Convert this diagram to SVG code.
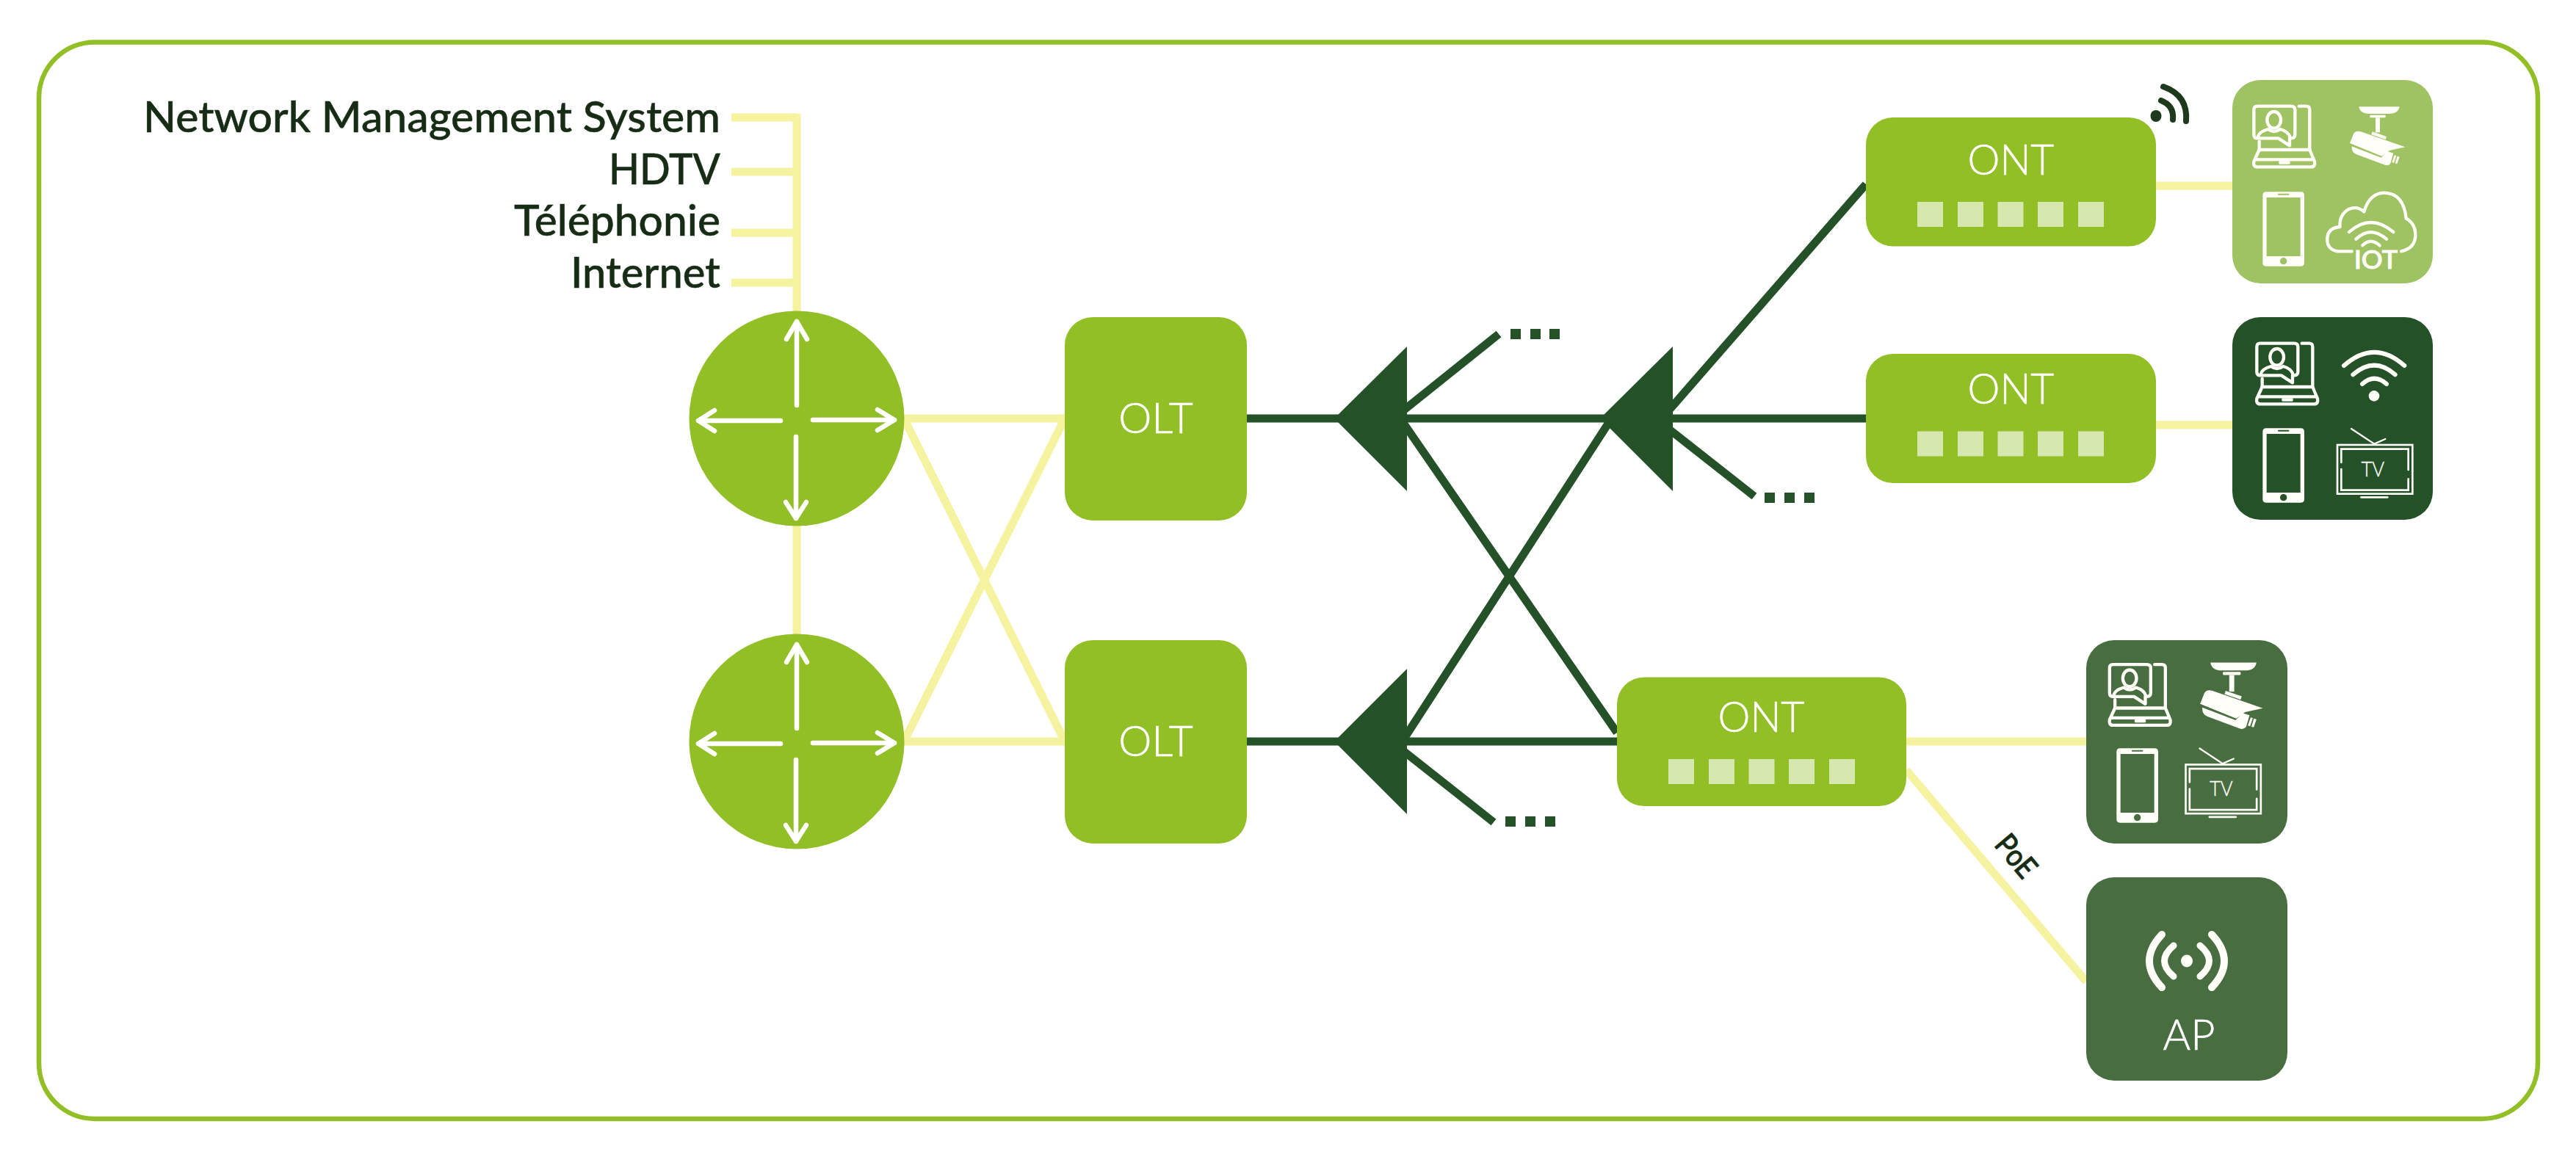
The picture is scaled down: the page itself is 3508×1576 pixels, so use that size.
<svg xmlns="http://www.w3.org/2000/svg" width="3508" height="1576" viewBox="0 0 3508 1576">
<style>
.g{fill:#93bf26}
.y{stroke:#f5f2a0;stroke-width:11;fill:none}
.d{stroke:#245128;stroke-width:11;fill:none}
.df{fill:#245128}
.sq{fill:#d7e7b0}
.lab{font-family:"Lato","Liberation Sans",sans-serif;font-weight:500;font-size:58px;fill:#162c15;stroke:#162c15;stroke-width:.5px;text-anchor:end}
.nt{font-family:"Lato","Liberation Sans",sans-serif;font-weight:300;font-size:57px;fill:#fff;stroke:#fff;stroke-width:.6px;text-anchor:middle}
.ar{stroke:#fff;stroke-width:6.5;fill:none;stroke-linecap:round;stroke-linejoin:round}
.ic{stroke:#fffef8;stroke-width:13;fill:none;stroke-linecap:round;stroke-linejoin:round}
.if{fill:#fffef8}
</style>
<defs>
<g id="router">
<circle cx="0" cy="0" r="146.5" class="g"/>
<path class="ar" d="M0 -132V-18M-14 -108L0 -132L14 -108"/>
<path class="ar" d="M-1 25V136M-15 114L-1 136L13 114"/>
<path class="ar" d="M-22 3H-134M-112 -11L-134 3L-112 17"/>
<path class="ar" d="M22 2H133M110 -12L133 2L110 16"/>
</g>
<g id="ports">
<rect x="70" y="0" width="35" height="34" class="sq"/>
<rect x="125" y="0" width="35" height="34" class="sq"/>
<rect x="179.500" y="0" width="35" height="34" class="sq"/>
<rect x="234" y="0" width="35" height="34" class="sq"/>
<rect x="289" y="0" width="35" height="34" class="sq"/>
</g>
<g id="laptop">
<path class="ic" d="M160 265Q148 265 148 250V148Q148 134 162 134H300Q316 134 316 148V250Q316 265 300 265H294V295L248 265Z"/>
<path class="ic" d="M332 134H362Q376 134 376 148V312M170 278V312"/>
<path class="ic" d="M170 312H376L396 360Q400 382 382 382H162Q144 382 148 360Z M152 352H392"/>
<rect class="if" x="250" y="358" width="46" height="13" rx="4"/>
<ellipse class="ic" cx="230" cy="190" rx="28" ry="34"/>
<path class="ic" d="M165 258Q170 238 206 228Q230 246 256 228Q290 238 296 262"/>
</g>
<g id="phone">
<path class="if" fill-rule="evenodd" d="M198 484H340Q354 484 354 498V774Q354 788 340 788H198Q184 788 184 774V498Q184 484 198 484Z M200 507V747H338V507Z M248 491Q246 491 246 494Q246 497 248 497H290Q292 497 292 494Q292 491 290 491Z M269 753A14 14 0 1 0 269 781A14 14 0 1 0 269 753Z"/>
</g>
<g id="camera">
<path class="if" d="M577 136H743Q738 165 700 165H620Q582 165 577 136Z"/>
<rect class="if" x="622" y="170" width="64" height="11" rx="3"/>
<rect class="if" x="645" y="181" width="18" height="60"/>
<path class="if" d="M632 238L690 258L686 270L628 250Z"/>
<path class="if" d="M540 285L556 245Q565 232 585 238L766 301L702 315L670 338Z"/>
<path class="if" d="M548 298L668 344L692 318L718 326L706 368Q696 380 680 373L565 330Q546 322 548 298Z"/>
<path class="if" d="M722 334L730 336L720 366L712 363Z M734 338L743 341L733 370L725 367Z"/>
</g>
<g id="iot">
<path class="ic" d="M548 727H490Q445 720 448 672Q452 630 500 627Q495 580 535 555Q570 540 598 565Q620 490 680 488Q760 490 770 592Q810 615 808 665Q805 715 750 727"/>
<path class="ic" d="M537 648Q625 570 718 648M565 677Q625 620 690 677M592 703Q625 670 662 703"/>
<text x="557" y="797" font-family="Lato,'Liberation Sans',sans-serif" font-weight="500" font-size="104" fill="#fffef8" stroke="#fffef8" stroke-width="3" textLength="178" lengthAdjust="spacingAndGlyphs">IOT</text>
</g>
<g id="tv">
<rect x="489" y="528" width="307" height="200" fill="none" stroke="#fffef8" stroke-width="8"/>
<path fill="none" stroke="#fffef8" stroke-width="8" stroke-linecap="round" d="M505 600V545H779V630M779 667V713H505V627"/>
<path fill="none" stroke="#fffef8" stroke-width="7" stroke-linecap="round" d="M546 462L640 524L685 504"/>
<rect class="if" x="582" y="738" width="116" height="8" rx="4"/>
<text x="634" y="657" font-family="Lato,'Liberation Sans',sans-serif" font-weight="300" font-size="84" fill="#fffef8" stroke="#fffef8" stroke-width="1" text-anchor="middle" textLength="95" lengthAdjust="spacingAndGlyphs">TV</text>
</g>
</defs>

<rect id="frame" x="53" y="57.500" width="3403" height="1466.500" rx="76" fill="#fff" stroke="#93bf26" stroke-width="6.500"/>

<g id="connectors">
<path class="y" d="M996 160H1085M996 234H1085M996 317H1085M996 385H1085M1085 155V1000"/>
<path class="y" d="M1231 570H1450M1231 1010H1450M1231 570L1450 1010M1231 1010L1450 570"/>
<path class="y" d="M2936 253H3040M2936 579H3040M2596 1010H2841M2596 1049L2841 1337"/>
<path class="d" d="M1698 570H2541M1698 1010H2202"/>
<path class="d" d="M1900 560L2202 998M1905 1017L2190 577M2270 562L2541 251"/>
<path class="d" d="M1910 560L2041 455M2272 584L2389 676M1910 1022L2034 1120"/>
</g>

<g id="legend-network-management-system"><text class="lab" x="981" y="180" textLength="786" lengthAdjust="spacingAndGlyphs">Network Management System</text></g>
<g id="legend-hdtv"><text class="lab" x="981" y="250.500" textLength="152" lengthAdjust="spacingAndGlyphs">HDTV</text></g>
<g id="legend-telephonie"><text class="lab" x="981" y="321" textLength="281" lengthAdjust="spacingAndGlyphs">Téléphonie</text></g>
<g id="legend-internet"><text class="lab" x="981" y="391.500" textLength="204" lengthAdjust="spacingAndGlyphs">Internet</text></g>

<g id="router-1"><use href="#router" x="1085" y="570"/></g>
<g id="router-2"><use href="#router" x="1085" y="1010"/></g>

<g id="olt-1"><rect x="1450" y="432" width="248" height="277" rx="38" class="g"/><text class="nt" x="1574" y="590">OLT</text></g>
<g id="olt-2"><rect x="1450" y="872" width="248" height="277" rx="38" class="g"/><text class="nt" x="1574" y="1030">OLT</text></g>

<g id="splitter-1"><path class="df" d="M1817 570L1916 472V669Z"/><path class="df" d="M2057 448h14v14h-14zM2084 448h14v14h-14zM2110 448h14v14h-14z"/></g>
<g id="splitter-2"><path class="df" d="M2179 570L2278 472V669Z"/><path class="df" d="M2403 671h14v14h-14zM2430 671h14v14h-14zM2457 671h14v14h-14z"/></g>
<g id="splitter-3"><path class="df" d="M1817 1010L1916 911V1109Z"/><path class="df" d="M2050 1112h14v14h-14zM2077 1112h14v14h-14zM2104 1112h14v14h-14z"/></g>

<g id="ont-1"><rect x="2541" y="160" width="395" height="175.500" rx="37" class="g"/><use href="#ports" x="2541" y="275"/><text class="nt" x="2738.500" y="238" textLength="118" lengthAdjust="spacingAndGlyphs">ONT</text>
<g fill="none" stroke="#1e3a1c" stroke-width="8" stroke-linecap="round"><path d="M2943 137Q2961 144 2959 163M2946 118Q2980 130 2977 165"/></g><ellipse cx="2936" cy="158" rx="7.500" ry="8" fill="#1e3a1c"/></g>
<g id="ont-2"><rect x="2541" y="482" width="395" height="176" rx="37" class="g"/><use href="#ports" x="2541" y="587.500"/><text class="nt" x="2738.500" y="550" textLength="118" lengthAdjust="spacingAndGlyphs">ONT</text></g>
<g id="ont-3"><rect x="2202" y="922.500" width="394" height="175.500" rx="37" class="g"/><use href="#ports" x="2202" y="1034"/><text class="nt" x="2398.500" y="997" textLength="118" lengthAdjust="spacingAndGlyphs">ONT</text></g>

<g id="devices-1"><rect x="3040" y="109" width="273" height="277" rx="38" fill="#9fc263"/>
<g transform="translate(3020 100) scale(.33333)"><use href="#laptop"/><use href="#camera"/><use href="#phone"/><use href="#iot"/></g></g>

<g id="devices-2"><rect x="3040" y="432" width="273" height="276" rx="38" fill="#245128"/>
<g transform="translate(3024 423) scale(.33333)"><use href="#laptop"/></g>
<g transform="translate(3020 422) scale(.33333)"><use href="#phone"/></g>
<g transform="translate(3020 430) scale(.33333)"><use href="#tv"/>
<g fill="none" stroke="#fffef8" stroke-linecap="round"><path stroke-width="18" d="M516 204Q640 95 763 204"/><path stroke-width="18" d="M553 241Q640 165 725 241"/><path stroke-width="18" d="M591 279Q640 235 690 279"/></g><circle class="if" cx="639" cy="328" r="22"/></g></g>

<g id="devices-3"><rect x="2841" y="872" width="274" height="277" rx="38" fill="#486d40"/>
<g transform="translate(2823.500 860.500) scale(.33333)"><use href="#laptop"/></g>
<g transform="translate(2792 851) scale(.378)"><use href="#camera"/></g>
<g transform="translate(2821 858) scale(.33333)"><use href="#phone"/></g>
<g transform="translate(2813.500 865.500) scale(.33333)"><use href="#tv"/></g></g>

<g id="ap"><rect x="2841" y="1195" width="274" height="277" rx="38" fill="#486d40"/>
<ellipse cx="2978" cy="1309" rx="8" ry="8.500" fill="#fffef8"/>
<g fill="none" stroke="#fffef8" stroke-width="9" stroke-linecap="round"><path d="M2960 1288Q2935 1309 2960 1330M2996 1288Q3021 1309 2996 1330"/><path stroke-width="10" d="M2944 1273Q2910 1309 2944 1345M3012 1273Q3046 1309 3012 1345"/></g>
<text class="nt" x="2981" y="1430" textLength="71" lengthAdjust="spacingAndGlyphs">AP</text></g>

<text id="poe" x="0" y="0" transform="translate(2734.500 1175.500) rotate(50)" font-family="Lato,'Liberation Sans',sans-serif" font-weight="500" font-size="42" fill="#162c15" stroke="#162c15" stroke-width=".8" text-anchor="middle" textLength="63" lengthAdjust="spacingAndGlyphs">PoE</text>
</svg>
